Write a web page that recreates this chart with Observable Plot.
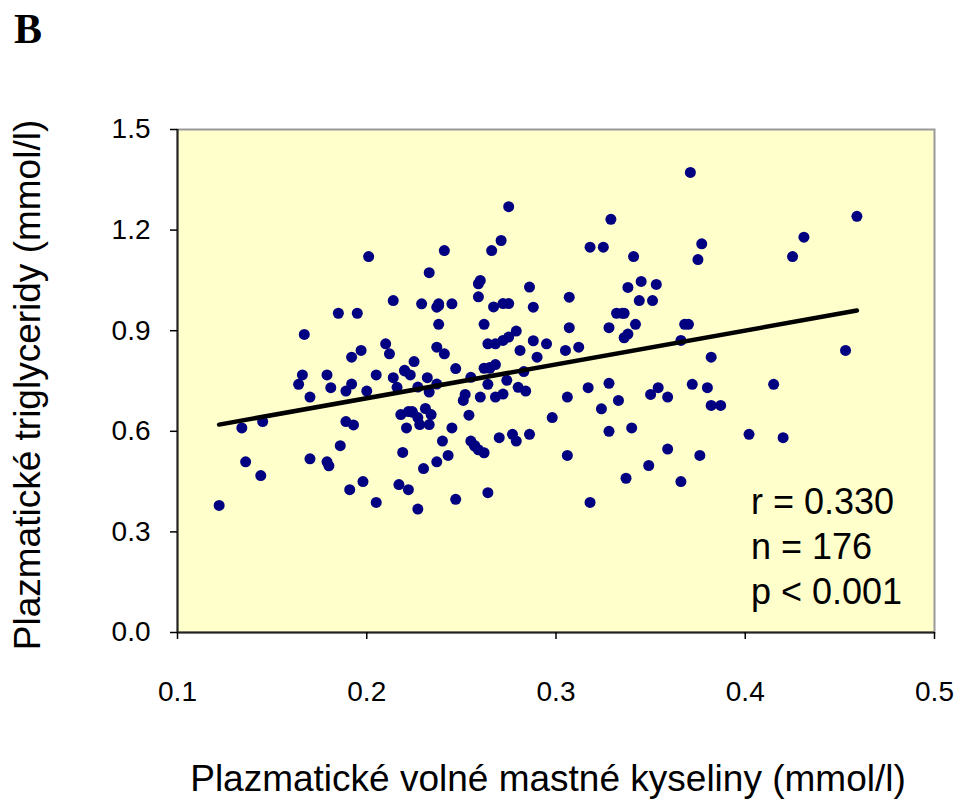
<!DOCTYPE html>
<html>
<head>
<meta charset="utf-8">
<script src="https://cdn.jsdelivr.net/npm/d3@7"></script>
<script src="https://cdn.jsdelivr.net/npm/@observablehq/plot@0.6"></script>
<style>
  body { margin: 0; background: #fff; }
  svg { display: block; }
</style>
</head>
<body>
<div id="chart"></div>
<script>
// Plasma free fatty acids (mmol/l) per subject
const ffa = [
  0.122,0.134,0.145,0.136,0.144,0.164,0.166,0.179,0.181,0.170,0.189,0.192,0.200,0.205,0.214,0.216,0.220,0.223,0.227,0.232,
  0.233,0.237,0.189,0.193,0.186,0.170,0.179,0.180,0.198,0.191,0.205,0.227,0.217,0.222,0.219,0.230,0.237,0.243,0.240,0.245,
  0.218,0.222,0.224,0.227,0.231,0.234,0.221,0.228,0.233,0.247,0.201,0.214,0.229,0.233,0.241,0.237,0.238,0.245,0.185,0.195,
  0.167,0.238,0.210,0.212,0.197,0.192,0.237,0.241,0.225,0.247,
  0.275,0.329,0.271,0.266,0.318,0.325,0.341,0.259,0.260,0.286,0.345,0.353,0.338,0.259,0.307,0.267,0.272,0.275,0.288,0.344,
  0.351,0.332,0.335,0.262,0.307,0.328,0.342,0.336,0.338,0.279,
  0.275,0.272,0.264,0.268,0.288,0.295,0.281,0.290,0.305,0.312,0.262,0.265,0.268,0.255,0.283,0.274,0.328,0.264,0.280,0.284,
  0.252,0.251,0.260,0.268,0.272,0.254,0.298,0.306,0.317,0.333,
  0.324,0.350,0.354,0.359,0.255,0.257,0.259,0.262,0.270,0.277,0.279,0.286,0.306,0.264,0.318,0.328,0.340,0.359,0.349,0.337,
  0.366,0.371,0.459,0.431,0.425,0.377,0.375,0.368,0.370,0.366,
  0.382,0.453,0.372,0.380,0.415,0.382,0.387,0.402,0.420,0.376,
  0.224,0.257,0.265,0.336,0.238,0.220
];

// Plasma triglycerides (mmol/l), same order as ffa
const tg = [
  0.379,0.610,0.629,0.509,0.468,0.740,0.768,0.768,0.730,0.702,0.720,0.741,0.720,0.768,0.760,0.731,0.780,0.768,0.732,0.760,
  0.717,0.741,0.629,0.619,0.557,0.518,0.509,0.497,0.450,0.426,0.388,0.368,0.441,0.426,0.537,0.489,0.509,0.528,0.571,0.610,
  0.650,0.659,0.659,0.641,0.668,0.650,0.610,0.620,0.620,0.397,1.121,0.990,0.980,1.073,1.139,0.970,0.980,0.980,0.952,0.952,
  0.889,0.919,0.861,0.831,0.841,0.821,0.851,0.831,0.808,0.787,
  1.270,1.232,1.169,1.139,1.149,1.149,1.121,1.040,1.050,1.030,1.047,1.038,1.029,1.001,1.000,0.971,0.981,0.981,0.970,0.990,
  0.990,0.952,0.952,0.919,0.909,0.909,0.919,0.879,0.890,0.899,
  0.881,0.871,0.861,0.861,0.870,0.861,0.841,0.821,0.841,0.851,0.788,0.788,0.799,0.761,0.778,0.752,0.743,0.740,0.731,0.720,
  0.710,0.692,0.702,0.702,0.711,0.648,0.641,0.702,0.730,0.692,
  0.667,0.710,0.730,0.702,0.571,0.558,0.545,0.536,0.581,0.591,0.571,0.591,0.528,0.417,0.388,0.600,0.610,0.547,0.498,0.460,
  0.450,1.372,1.241,1.179,1.121,1.159,1.112,0.919,0.919,0.871,
  0.821,0.841,0.740,0.730,0.740,0.677,0.677,0.591,0.581,0.528,
  0.657,0.556,0.790,0.952,0.975,0.782
];

// Fitted trend line endpoints
const trendX = [0.122, 0.459];
const trendY = [0.620, 0.960];

// Axis ticks
const xTicks = [0.1, 0.2, 0.3, 0.4, 0.5];
const yTicks = [0.0, 0.3, 0.6, 0.9, 1.2, 1.5];

// Statistics shown in the corner
const stats = ["r = 0.330", "n = 176", "p < 0.001"];

const xTitle = "Plazmatické volné mastné kyseliny (mmol/l)";
const yTitle = "Plazmatické triglyceridy (mmol/l)";
const panel = "B";

const points = ffa.map((x, i) => ({x, y: tg[i]}));
const trend = trendX.map((x, i) => ({x, y: trendY[i]}));
const fmt = d3.format(".1f");

const chart = Plot.plot({
  width: 960,
  height: 810,
  marginLeft: 177,
  marginRight: 26,
  marginTop: 129,
  marginBottom: 178,
  style: {
    fontFamily: "'Liberation Sans', Arial, sans-serif",
    fontSize: "28px",
    color: "#000",
    background: "#fff"
  },
  x: {domain: [0.1, 0.5]},
  y: {domain: [0, 1.5]},
  marks: [
    Plot.frame({fill: "#FFFFCC", stroke: "#999", strokeWidth: 2}),
    Plot.ruleX([0.1], {stroke: "#222", strokeWidth: 2}),
    Plot.ruleY([0], {stroke: "#222", strokeWidth: 2}),
    Plot.axisX({ticks: xTicks, tickSize: 7, tickPadding: 42, tickFormat: fmt, label: null, strokeWidth: 1.5, fontSize: 28}),
    Plot.axisY({ticks: yTicks, tickSize: 7, tickPadding: 20, tickFormat: fmt, label: null, strokeWidth: 1.5, fontSize: 28}),
    Plot.dot(points, {x: "x", y: "y", r: 5.5, fill: "#000080", stroke: null}),
    Plot.line(trend, {x: "x", y: "y", stroke: "#000", strokeWidth: 4.5, strokeLinecap: "round"})
  ]
});

const svg = d3.select(chart);

svg.append("text")
  .attr("x", 14).attr("y", 43)
  .attr("text-anchor", "start")
  .attr("font-family", "'Liberation Serif', 'Times New Roman', serif")
  .attr("font-weight", "bold")
  .attr("font-size", 42)
  .text(panel);

svg.append("text")
  .attr("transform", "translate(40,385) rotate(-90)")
  .attr("text-anchor", "middle")
  .attr("font-size", 37)
  .text(yTitle);

svg.append("text")
  .attr("x", 548).attr("y", 791)
  .attr("text-anchor", "middle")
  .attr("font-size", 37)
  .text(xTitle);

const statY = [514, 559, 604];
svg.append("g")
  .attr("font-size", 36)
  .attr("text-anchor", "start")
  .selectAll("text")
  .data(stats)
  .join("text")
  .attr("x", 751)
  .attr("y", (d, i) => statY[i])
  .text(d => d);

document.getElementById("chart").append(chart);
</script>
</body>
</html>
